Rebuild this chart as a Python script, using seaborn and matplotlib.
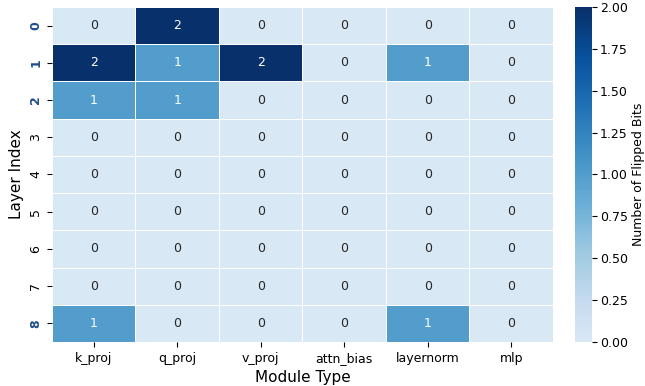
import numpy as np
import pandas as pd
import seaborn as sns
import matplotlib.pyplot as plt
from matplotlib.colors import LinearSegmentedColormap

modules = ["k_proj", "q_proj", "v_proj", "attn_bias", "layernorm", "mlp"]
layers = [0, 1, 2, 3, 4, 5, 6, 7, 8]

k_proj = [0, 2, 1, 0, 0, 0, 0, 0, 1]
q_proj = [2, 1, 1, 0, 0, 0, 0, 0, 0]
v_proj = [0, 2, 0, 0, 0, 0, 0, 0, 0]
attn_bias = [0, 0, 0, 0, 0, 0, 0, 0, 0]
layernorm = [0, 1, 0, 0, 0, 0, 0, 0, 1]
mlp = [0, 0, 0, 0, 0, 0, 0, 0, 0]

df = pd.DataFrame({
    "k_proj": k_proj, "q_proj": q_proj, "v_proj": v_proj,
    "attn_bias": attn_bias, "layernorm": layernorm, "mlp": mlp,
}, index=layers)

# Blues without the near-white end
base = plt.get_cmap("Blues")
cmap = LinearSegmentedColormap.from_list("blues_trunc", base(np.linspace(0.15, 1.0, 256)))

fig = plt.figure(figsize=(6.45, 3.86), dpi=100)
ax = fig.add_axes([0.0806, 0.114, 0.7767, 0.868])
cax = fig.add_axes([0.8915, 0.114, 0.0264, 0.868])
sns.heatmap(df, annot=True, fmt="d", cmap=cmap, vmin=0, vmax=2,
            linewidths=0.5, linecolor="white", ax=ax, cbar_ax=cax,
            annot_kws={"fontsize": 9})

ax.set_xlabel("Module Type", fontsize=11)
ax.set_ylabel("Layer Index", fontsize=11)
ax.tick_params(axis="both", labelsize=9)
ax.tick_params(axis="x", rotation=0)

# highlight layers that have any flipped bits
for lbl in ax.get_yticklabels():
    if df.loc[int(lbl.get_text())].sum() > 0:
        lbl.set_color("#1f4e8c")
        lbl.set_fontweight("bold")

cbar = ax.collections[0].colorbar
cbar.ax.tick_params(labelsize=9, pad=2)
cbar.set_label("Number of Flipped Bits", fontsize=9, labelpad=3)
cbar.outline.set_visible(False)

plt.savefig("out.png", dpi=100)
